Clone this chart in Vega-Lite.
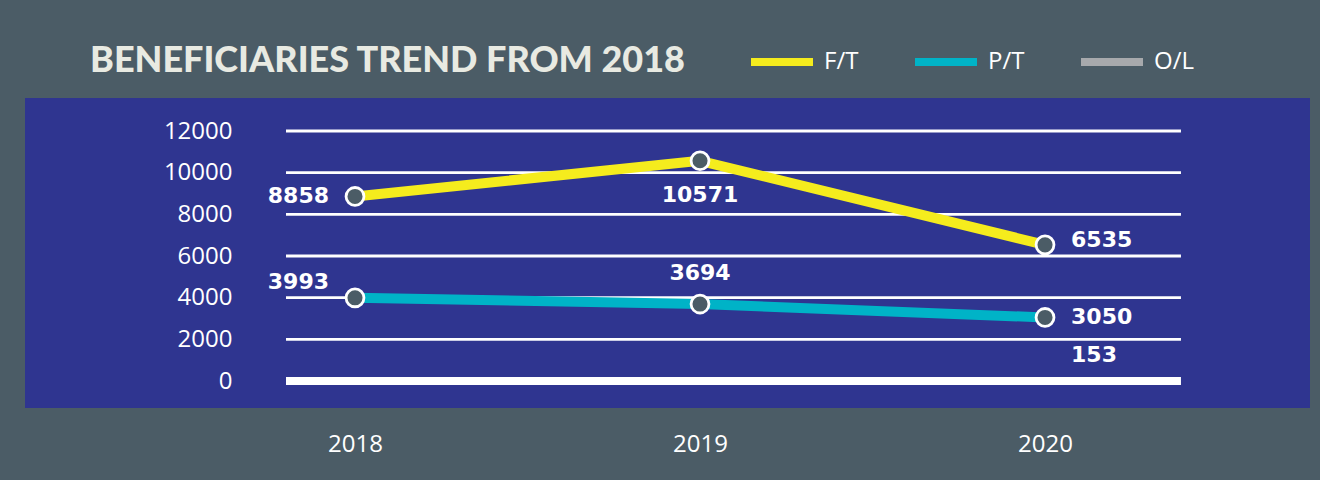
{
  "$schema": "https://vega.github.io/schema/vega-lite/v6.json",
  "width": 1285,
  "height": 310,
  "autosize": {"type": "none"},
  "padding": {"left": 25, "top": 98, "right": 10, "bottom": 72},
  "background": "#4b5c66",
  "view": {"fill": "#2f3590", "stroke": null},
  "config": {
    "axisY": {"orient": "left", "offset": -215, "domain": false, "ticks": false, "grid": false, "labelPadding": 8, "labelFont": "Open Sans", "labelFontSize": 24, "labelColor": "#ffffff", "title": null},
    "axisX": {"orient": "bottom", "domain": false, "ticks": false, "grid": false, "labelPadding": 24, "labelFont": "Open Sans", "labelFontSize": 24, "labelColor": "#ffffff", "title": null}
  },
  "title": {
    "text": "BENEFICIARIES TREND FROM 2018",
    "anchor": "start",
    "frame": "group",
    "dx": 65,
    "offset": -81,
    "baseline": "alphabetic",
    "font": "Lato",
    "fontWeight": 900,
    "fontSize": 36,
    "color": "#e8eae2"
  },
  "datasets": {
    "series": [
      {"year": 2018, "series": "F/T", "value": 8858},
      {"year": 2019, "series": "F/T", "value": 10571},
      {"year": 2020, "series": "F/T", "value": 6535},
      {"year": 2018, "series": "P/T", "value": 3993},
      {"year": 2019, "series": "P/T", "value": 3694},
      {"year": 2020, "series": "P/T", "value": 3050},
      {"year": 2020, "series": "O/L", "value": 153}
    ],
    "grid": [
      {"tick": 0}, {"tick": 2000}, {"tick": 4000}, {"tick": 6000},
      {"tick": 8000}, {"tick": 10000}, {"tick": 12000}
    ]
  },
  "layer": [
    {
      "data": {"name": "grid"},
      "mark": {"type": "rule", "color": "#ffffff"},
      "encoding": {
        "y": {
          "field": "tick", "type": "quantitative",
          "scale": {"domain": [-1296, 13584], "nice": false, "zero": false},
          "axis": {"values": [0, 2000, 4000, 6000, 8000, 10000, 12000], "format": "d", "title": null}
        },
        "x": {"datum": 2017.8, "type": "quantitative", "scale": {"domain": [2017.0435, 2020.768], "nice": false, "zero": false}, "axis": {"values": [2018, 2019, 2020], "format": "d", "title": null}},
        "x2": {"datum": 2020.394},
        "strokeWidth": {"condition": {"test": "datum.tick === 0", "value": 8}, "value": 2.8}
      }
    },
    {
      "data": {"name": "series"},
      "mark": {"type": "line", "strokeWidth": 10, "strokeCap": "butt", "strokeJoin": "round"},
      "encoding": {
        "x": {"field": "year", "type": "quantitative", "axis": {"values": [2018, 2019, 2020], "format": "d", "title": null}},
        "y": {"field": "value", "type": "quantitative", "axis": {"values": [0, 2000, 4000, 6000, 8000, 10000, 12000], "format": "d", "title": null}},
        "color": {
          "field": "series", "type": "nominal",
          "scale": {"domain": ["F/T", "P/T", "O/L"], "range": ["#f5ec1d", "#00b3c7", "#a7a9ac"]},
          "legend": {
            "orient": "none", "legendX": 722, "legendY": -71, "direction": "horizontal", "title": null,
            "symbolType": "M-1,0H1", "symbolSize": 3844, "symbolStrokeWidth": 8, "padding": 0,
            "labelFont": "Open Sans", "labelFontSize": 24, "labelColor": "#ffffff", "labelOffset": 7,
            "columnPadding": 40
          }
        }
      }
    },
    {
      "data": {"name": "series"},
      "transform": [{"filter": "datum.series !== 'O/L'"}],
      "mark": {"type": "point", "filled": true, "fill": "#4b5c66", "stroke": "#ffffff", "strokeWidth": 2.8, "size": 320, "opacity": 1},
      "encoding": {
        "x": {"field": "year", "type": "quantitative"},
        "y": {"field": "value", "type": "quantitative"}
      }
    },
    {
      "data": {"name": "series"},
      "transform": [{"filter": "datum.year === 2018 && datum.series === 'F/T'"}],
      "mark": {"type": "text", "align": "right", "baseline": "middle", "dx": -26, "dy": 0, "font": "DejaVu Sans", "fontWeight": "bold", "fontSize": 22, "color": "#ffffff"},
      "encoding": {
        "x": {"field": "year", "type": "quantitative"},
        "y": {"field": "value", "type": "quantitative"},
        "text": {"field": "value", "type": "quantitative", "format": "d"}
      }
    },
    {
      "data": {"name": "series"},
      "transform": [{"filter": "datum.year === 2018 && datum.series === 'P/T'"}],
      "mark": {"type": "text", "align": "right", "baseline": "middle", "dx": -26, "dy": -16, "font": "DejaVu Sans", "fontWeight": "bold", "fontSize": 22, "color": "#ffffff"},
      "encoding": {
        "x": {"field": "year", "type": "quantitative"},
        "y": {"field": "value", "type": "quantitative"},
        "text": {"field": "value", "type": "quantitative", "format": "d"}
      }
    },
    {
      "data": {"name": "series"},
      "transform": [{"filter": "datum.year === 2019 && datum.series === 'F/T'"}],
      "mark": {"type": "text", "align": "center", "baseline": "middle", "dy": 34, "font": "DejaVu Sans", "fontWeight": "bold", "fontSize": 22, "color": "#ffffff"},
      "encoding": {
        "x": {"field": "year", "type": "quantitative"},
        "y": {"field": "value", "type": "quantitative"},
        "text": {"field": "value", "type": "quantitative", "format": "d"}
      }
    },
    {
      "data": {"name": "series"},
      "transform": [{"filter": "datum.year === 2019 && datum.series === 'P/T'"}],
      "mark": {"type": "text", "align": "center", "baseline": "middle", "dy": -31, "font": "DejaVu Sans", "fontWeight": "bold", "fontSize": 22, "color": "#ffffff"},
      "encoding": {
        "x": {"field": "year", "type": "quantitative"},
        "y": {"field": "value", "type": "quantitative"},
        "text": {"field": "value", "type": "quantitative", "format": "d"}
      }
    },
    {
      "data": {"name": "series"},
      "transform": [{"filter": "datum.year === 2020 && datum.series === 'F/T'"}],
      "mark": {"type": "text", "align": "left", "baseline": "middle", "dx": 26, "dy": -5, "font": "DejaVu Sans", "fontWeight": "bold", "fontSize": 22, "color": "#ffffff"},
      "encoding": {
        "x": {"field": "year", "type": "quantitative"},
        "y": {"field": "value", "type": "quantitative"},
        "text": {"field": "value", "type": "quantitative", "format": "d"}
      }
    },
    {
      "data": {"name": "series"},
      "transform": [{"filter": "datum.year === 2020 && datum.series === 'P/T'"}],
      "mark": {"type": "text", "align": "left", "baseline": "middle", "dx": 26, "dy": 0, "font": "DejaVu Sans", "fontWeight": "bold", "fontSize": 22, "color": "#ffffff"},
      "encoding": {
        "x": {"field": "year", "type": "quantitative"},
        "y": {"field": "value", "type": "quantitative"},
        "text": {"field": "value", "type": "quantitative", "format": "d"}
      }
    },
    {
      "data": {"name": "series"},
      "transform": [{"filter": "datum.year === 2020 && datum.series === 'O/L'"}],
      "mark": {"type": "text", "align": "left", "baseline": "middle", "dx": 26, "dy": -23, "font": "DejaVu Sans", "fontWeight": "bold", "fontSize": 22, "color": "#ffffff"},
      "encoding": {
        "x": {"field": "year", "type": "quantitative"},
        "y": {"field": "value", "type": "quantitative"},
        "text": {"field": "value", "type": "quantitative", "format": "d"}
      }
    }
  ]
}
